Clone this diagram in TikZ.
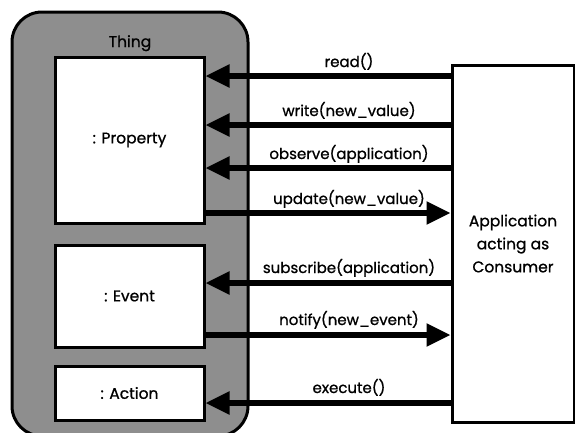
\documentclass[tikz,border=0pt]{standalone}
\usepackage{fontspec}
\setmainfont{Poppins}[FakeBold=0.9]
\usetikzlibrary{arrows.meta,calc}
\definecolor{thinggray}{RGB}{142,142,142}
\begin{document}
\begin{tikzpicture}[x=1pt,y=-1pt,
  box/.style={draw=black,line width=3pt,fill=white,inner sep=0pt},
  arr/.style={line width=5.5pt,-{Triangle[length=24pt,width=22pt]}},
  lbl/.style={anchor=base,font=\fontsize{15}{17}\selectfont,inner sep=0pt},
  txt/.style={font=\fontsize{15.5}{23}\selectfont,align=center}]
\useasboundingbox (0,0) rectangle (575,432);
\fill[white] (0,0) rectangle (575,432);
% Thing container
\draw[line width=3pt,fill=thinggray,rounded corners=30pt] (12,12) rectangle (248,436);
\node[txt,anchor=base] (thing) at (130,47) {Thing};
% inner boxes
\node[box,minimum width=149pt,minimum height=166pt] (prop) at (129.5,140) {};
\node[txt] (proptxt) at (prop.center) {: Property};
\node[box,minimum width=149pt,minimum height=102pt] (event) at (129.5,296) {};
\node[txt] (eventtxt) at (event.center) {: Event};
\node[box,minimum width=149pt,minimum height=54pt] (action) at (129.5,393) {};
\node[txt] (actiontxt) at (action.center) {: Action};
% application
\node[box,minimum width=122pt,minimum height=357pt] (app) at (513,243.5) {};
\node[txt] (apptxt) at (app.center) {Application\\acting as\\Consumer};
% arrows
\draw[arr] (app.west |- 0,76) -- (prop.east |- 0,76);
\node[lbl] (l1) at (349,67) {read()};
\draw[arr] (app.west |- 0,125) -- (prop.east |- 0,125);
\node[lbl] (l2) at (349,116) {write(new\_value)};
\draw[arr] (app.west |- 0,168) -- (prop.east |- 0,168);
\node[lbl] (l3) at (349,159) {observe(application)};
\draw[arr] (prop.east |- 0,213) -- (app.west |- 0,213);
\node[lbl] (l4) at (349,204) {update(new\_value)};
\draw[arr] (app.west |- 0,283) -- (event.east |- 0,283);
\node[lbl] (l5) at (349,273) {subscribe(application)};
\draw[arr] (event.east |- 0,335) -- (app.west |- 0,335);
\node[lbl] (l6) at (349,325) {notify(new\_event)};
\draw[arr] (app.west |- 0,403) -- (action.east |- 0,403);
\node[lbl] (l7) at (349,393) {execute()};
\end{tikzpicture}
\end{document}
